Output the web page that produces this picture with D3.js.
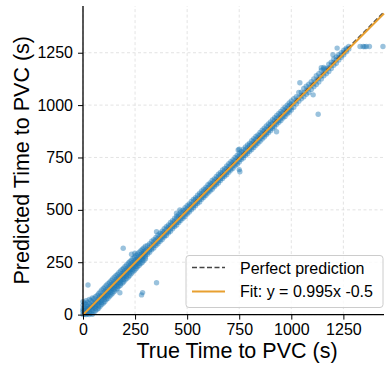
<!DOCTYPE html>
<html>
<head>
<meta charset="utf-8">
<script src="https://cdn.jsdelivr.net/npm/d3@7"></script>
<style>
  body { margin: 0; background: #fff; }
  text { font-family: "Liberation Sans", Arial, sans-serif; fill: #000; }
</style>
</head>
<body>
<div id="chart"></div>
<script>
// true time to PVC (s) and the predictions seen at each one
const bandTrue = [
  0, 8, 15, 22, 30, 38, 45, 52, 60, 68, 75, 82, 90, 98, 105, 112, 120, 128, 135, 142,
  150, 158, 165, 172, 180, 188, 195, 202, 210, 218, 225, 232, 240, 248, 255, 262, 270, 278, 285, 292,
  300, 310, 320, 330, 340, 350, 360, 370, 380, 390, 400, 410, 420, 430, 440, 450, 460, 470, 480, 490,
  500, 510, 520, 530, 540, 550, 560, 570, 580, 590, 600, 610, 620, 630, 640, 650, 660, 670, 680, 690,
  700, 710, 720, 730, 740, 750, 760, 770, 780, 790, 800, 810, 820, 830, 840, 850, 860, 870, 880, 890,
  900, 910, 920, 930, 940, 950, 960, 970, 980, 990, 1000, 1012, 1024, 1036, 1048, 1060, 1072, 1084, 1096, 1108,
  1120, 1132, 1144, 1156, 1168, 1180, 1192, 1204, 1216, 1228, 1240, 1252, 1264, 1276
];
const bandPred = [
  [0, 12, 28, 45, 62, 20], [2, 20, 38, 55, 10], [0, 8, 30, 48, 66, 22], [4, 18, 40, 58, 28], [0, 14, 32, 50, 72, 24],
  [6, 26, 44, 68, 36], [2, 20, 42, 60, 80, 32], [10, 34, 55, 76, 45], [18, 40, 62, 85, 30, 52], [25, 48, 70, 92, 60],
  [30, 55, 78, 100, 42, 66], [40, 62, 88, 108, 74], [48, 70, 92, 118, 58, 82], [55, 80, 102, 125, 90], [62, 85, 110, 132, 96, 74],
  [72, 95, 118, 140, 105], [78, 100, 125, 148, 112, 90], [88, 110, 134, 155, 122], [95, 118, 140, 162, 128, 106], [102, 125, 148, 170, 136],
  [110, 134, 156, 178, 145, 122], [118, 140, 165, 186, 152], [125, 148, 170, 192, 160, 136], [134, 155, 178, 200, 166], [140, 162, 186, 208, 175, 150],
  [150, 172, 195, 215, 184], [156, 180, 202, 222, 190, 168], [165, 188, 210, 230, 198], [172, 195, 218, 238, 205, 184], [180, 204, 226, 246, 214],
  [188, 212, 232, 252, 220, 200], [196, 218, 240, 260, 228], [204, 226, 248, 268, 236, 214], [212, 234, 256, 275, 244], [220, 242, 262, 282, 250, 230],
  [228, 248, 270, 290, 258], [235, 256, 278, 298, 266, 245], [244, 265, 286, 305, 275], [250, 272, 292, 312, 282, 262], [258, 280, 300, 318, 290],
  [266, 286, 306, 326, 298, 276], [288, 298, 312, 330], [298, 308, 322, 338], [310, 318, 334, 350], [318, 330, 346, 358],
  [330, 340, 356, 368], [338, 348, 364, 380], [350, 360, 376, 388], [358, 370, 386, 398], [370, 378, 396, 410],
  [378, 390, 406, 420], [390, 398, 416, 428], [398, 410, 426, 440], [410, 420, 436, 448], [420, 430, 446, 460],
  [428, 440, 458, 470], [440, 448, 466, 478], [450, 460, 476, 490], [460, 470, 486, 498], [468, 480, 498, 510],
  [480, 490, 506, 520], [490, 500, 518, 528], [500, 510, 526, 540], [510, 520, 536, 550], [520, 530, 548, 558],
  [530, 540, 556, 570], [538, 550, 566, 580], [550, 560, 576, 590], [560, 570, 586, 598], [570, 580, 596, 608],
  [580, 590, 606, 620], [590, 600, 618, 628], [598, 610, 626, 640], [610, 620, 636, 648], [620, 630, 646, 660],
  [628, 640, 656, 670], [640, 650, 666, 678], [650, 660, 676, 690], [660, 670, 686, 698], [668, 680, 696, 710],
  [680, 690, 706, 720], [690, 700, 716, 730], [698, 710, 726, 738], [710, 720, 736, 750], [718, 730, 746, 760],
  [728, 740, 756, 770], [740, 750, 766, 778], [748, 760, 776, 790], [760, 770, 786, 800], [768, 780, 796, 810],
  [780, 790, 806, 818], [788, 800, 816, 830], [798, 810, 826, 840], [808, 820, 836, 850], [818, 830, 846, 858],
  [828, 840, 856, 870], [838, 850, 866, 880], [848, 860, 876, 890], [858, 868, 884, 900], [868, 880, 896, 910],
  [878, 890, 906, 920], [888, 898, 914, 930], [896, 910, 926, 940], [908, 920, 936, 950], [918, 928, 944, 960],
  [926, 938, 956, 970], [938, 948, 964, 980], [946, 958, 976, 990], [958, 968, 984, 1000], [966, 978, 996, 1010],
  [976, 988, 1004, 1020], [990, 1008, 1030], [1005, 1022, 1040], [1018, 1036, 1060], [1030, 1046, 1062],
  [1040, 1058, 1080], [1052, 1070, 1090], [1060, 1082, 1100], [1075, 1094, 1112], [1088, 1104, 1125],
  [1098, 1118, 1140], [1110, 1130, 1150], [1125, 1140, 1165, 1178], [1140, 1156, 1172, 1180], [1150, 1166, 1175],
  [1160, 1178, 1195], [1175, 1190, 1205], [1190, 1204, 1220], [1200, 1216, 1230], [1215, 1228, 1240],
  [1228, 1238, 1250], [1240, 1250, 1262], [1255, 1264, 1272], [1268, 1280]
];
// scattered predictions away from the diagonal
const outlierTrue = [24, 193, 233, 249, 353, 286, 281, 177, 353, 449, 465, 753, 750, 750, 745, 929, 1041, 1129, 1105, 1200, 1220,
  1330, 1345, 1352, 1360, 1375, 1440];
const outlierPred = [141, 317, 288, 293, 152, 105, 94, 104, 396, 484, 500, 682, 692, 789, 786, 873, 1107, 956, 1049, 1240, 1272,
  1280, 1280, 1279, 1280, 1280, 1280];

const tickValues = [0, 250, 500, 750, 1000, 1250];
const fitSlope = 0.995;
const fitIntercept = -0.5;
const legendLabels = ["Perfect prediction", "Fit: y = 0.995x -0.5"];

const W = 386, H = 373;
const margin = { top: 6, right: 2, bottom: 58.4, left: 83 };
const xMax = 1445, yMax = 1473;

const svg = d3.select("#chart").append("svg")
  .attr("width", W)
  .attr("height", H);

const x = d3.scaleLinear().domain([0, xMax]).range([margin.left, W - margin.right]);
const y = d3.scaleLinear().domain([0, yMax]).range([H - margin.bottom, margin.top]);

// grid
const grid = svg.append("g")
  .attr("stroke", "#dcdcdc")
  .attr("stroke-width", 0.8)
  .attr("stroke-dasharray", "3,2.5");
grid.selectAll(".gx").data(tickValues).join("line")
  .attr("x1", d => x(d)).attr("x2", d => x(d))
  .attr("y1", y(0)).attr("y2", y(yMax));
grid.selectAll(".gy").data(tickValues).join("line")
  .attr("y1", d => y(d)).attr("y2", d => y(d))
  .attr("x1", x(0)).attr("x2", x(xMax));

// points
const points = [];
bandTrue.forEach((t, i) => bandPred[i].forEach(p => points.push([t, p])));
outlierTrue.forEach((t, i) => points.push([t, outlierPred[i]]));

svg.append("g")
  .selectAll("circle")
  .data(points)
  .join("circle")
  .attr("cx", d => x(d[0]))
  .attr("cy", d => y(d[1]))
  .attr("r", 2.7)
  .attr("fill", "#1f77b4")
  .attr("fill-opacity", 0.45);

// perfect prediction and fit
const diag = d3.line().x(d => x(d[0])).y(d => y(d[1]));
svg.append("path")
  .attr("d", diag([[0, 0], [xMax, xMax]]))
  .attr("fill", "none")
  .attr("stroke", "#444")
  .attr("stroke-width", 1.4)
  .attr("stroke-dasharray", "5,2.5");
svg.append("path")
  .attr("d", diag([[0, fitIntercept], [xMax, fitSlope * xMax + fitIntercept]]))
  .attr("fill", "none")
  .attr("stroke", "#e8a030")
  .attr("stroke-width", 2);

// axes
const xAxis = svg.append("g")
  .attr("transform", `translate(0,${y(0)})`)
  .call(d3.axisBottom(x).tickValues(tickValues).tickFormat(d3.format("d")).tickSize(5).tickPadding(4));
const yAxis = svg.append("g")
  .attr("transform", `translate(${x(0)},0)`)
  .call(d3.axisLeft(y).tickValues(tickValues).tickFormat(d3.format("d")).tickSize(5).tickPadding(5));
[xAxis, yAxis].forEach(a => {
  a.select(".domain").remove();
  a.selectAll("line").attr("stroke", "#000").attr("stroke-width", 1);
  a.selectAll("text").attr("font-size", 16).attr("font-family", "Liberation Sans, Arial, sans-serif").attr("fill", "#000");
});

// spines
svg.append("line")
  .attr("x1", x(0)).attr("x2", x(0))
  .attr("y1", y(0)).attr("y2", y(yMax))
  .attr("stroke", "#000").attr("stroke-width", 1.3);
svg.append("line")
  .attr("x1", x(0)).attr("x2", x(xMax))
  .attr("y1", y(0)).attr("y2", y(0))
  .attr("stroke", "#000").attr("stroke-width", 1.3);

// axis labels
svg.append("text")
  .attr("x", 237).attr("y", 358)
  .attr("text-anchor", "middle")
  .attr("font-size", 21.5)
  .text("True Time to PVC (s)");
svg.append("text")
  .attr("transform", `translate(29,${(y(0) + y(yMax)) / 2}) rotate(-90)`)
  .attr("text-anchor", "middle")
  .attr("font-size", 21.5)
  .text("Predicted Time to PVC (s)");

// legend
const lg = svg.append("g");
lg.append("rect")
  .attr("x", 186).attr("y", 255.5)
  .attr("width", 197).attr("height", 52)
  .attr("rx", 3)
  .attr("fill", "#fff").attr("fill-opacity", 0.8)
  .attr("stroke", "#ccc");
lg.append("line")
  .attr("x1", 192).attr("x2", 225).attr("y1", 267.5).attr("y2", 267.5)
  .attr("stroke", "#444").attr("stroke-width", 1.4).attr("stroke-dasharray", "5,2.5");
lg.append("line")
  .attr("x1", 192).attr("x2", 225).attr("y1", 291.5).attr("y2", 291.5)
  .attr("stroke", "#e8a030").attr("stroke-width", 2);
lg.selectAll(".lt").data(legendLabels).join("text")
  .attr("x", 240)
  .attr("y", (d, i) => 273.5 + i * 23)
  .attr("font-size", 16)
  .text(d => d);
</script>
</body>
</html>
